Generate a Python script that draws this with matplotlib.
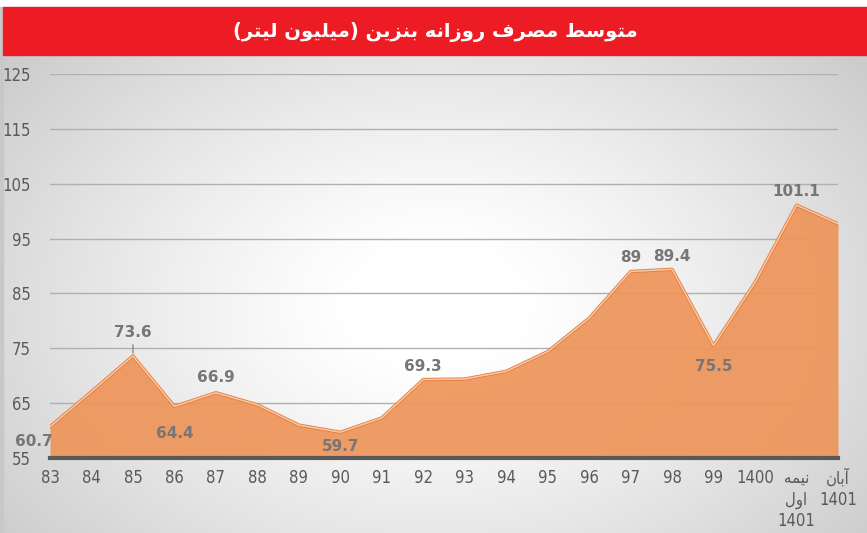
import numpy as np
import matplotlib
matplotlib.use("Agg")
import matplotlib.pyplot as plt

# ---------------- data ----------------
categories = ["83", "84", "85", "86", "87", "88", "89", "90", "91", "92",
              "93", "94", "95", "96", "97", "98", "99", "1400",
              "نیمه\nاول\n1401", "آبان\n1401"]
values = [60.7, 67.1, 73.6, 64.4, 66.9, 64.7, 61.0, 59.7, 62.3, 69.3,
          69.4, 70.8, 74.4, 80.5, 89.0, 89.4, 75.5, 87.0, 101.1, 97.7]
labeled = {0: "60.7", 2: "73.6", 3: "64.4", 4: "66.9", 7: "59.7", 9: "69.3",
           14: "89", 15: "89.4", 16: "75.5", 18: "101.1"}
yticks = [55, 65, 75, 85, 95, 105, 115, 125]
title = "متوسط مصرف روزانه بنزین (میلیون لیتر)"

# ---------------- minimal Arabic/Persian shaping ----------------
FORMS = {  # isolated, final, initial, medial
    "ا": ("\uFE8D", "\uFE8E", None, None),
    "آ": ("\uFE81", "\uFE82", None, None),
    "ب": ("\uFE8F", "\uFE90", "\uFE91", "\uFE92"),
    "ت": ("\uFE95", "\uFE96", "\uFE97", "\uFE98"),
    "ر": ("\uFEAD", "\uFEAE", None, None),
    "ز": ("\uFEAF", "\uFEB0", None, None),
    "س": ("\uFEB1", "\uFEB2", "\uFEB3", "\uFEB4"),
    "ص": ("\uFEB9", "\uFEBA", "\uFEBB", "\uFEBC"),
    "ط": ("\uFEC1", "\uFEC2", "\uFEC3", "\uFEC4"),
    "ف": ("\uFED1", "\uFED2", "\uFED3", "\uFED4"),
    "ل": ("\uFEDD", "\uFEDE", "\uFEDF", "\uFEE0"),
    "م": ("\uFEE1", "\uFEE2", "\uFEE3", "\uFEE4"),
    "ن": ("\uFEE5", "\uFEE6", "\uFEE7", "\uFEE8"),
    "ه": ("\uFEE9", "\uFEEA", "\uFEEB", "\uFEEC"),
    "و": ("\uFEED", "\uFEEE", None, None),
    "ی": ("\uFEEF", "\uFEF0", "\uFEF3", "\uFEF4"),
}
MIRROR = {"(": ")", ")": "("}


def dual(c):
    return c in FORMS and FORMS[c][2] is not None


def shape_line(s):
    out = []
    for i, c in enumerate(s):
        if c not in FORMS:
            out.append(MIRROR.get(c, c))
            continue
        prev = s[i - 1] if i > 0 else ""
        nxt = s[i + 1] if i + 1 < len(s) else ""
        jp = dual(prev)
        jn = dual(c) and nxt in FORMS
        iso, fin, ini, med = FORMS[c]
        if jp and jn:
            out.append(med)
        elif jp:
            out.append(fin)
        elif jn:
            out.append(ini)
        else:
            out.append(iso)
    if any(ch in FORMS for ch in s):
        out = out[::-1]
    return "".join(out)


def shape(s):
    return "\n".join(shape_line(l) for l in s.split("\n"))


# ---------------- figure ----------------
W, H = 867, 533
fig = plt.figure(figsize=(W / 100, H / 100), dpi=100)
fig.patch.set_facecolor("white")

# background radial gradient
bg = fig.add_axes([0.004, 0, 0.996, 1 - 7 / H], zorder=-10)
yy, xx = np.mgrid[0:300, 0:500]
cx, cy = 250, 170
t = np.sqrt(((xx - cx) / 320.0) ** 2 + ((yy - cy) / 220.0) ** 2)
t = np.clip((t - 0.15) / 0.85, 0, 1)
g = 1.0 - 0.2 * t ** 1.2
bg.imshow(np.dstack([g, g, g]), aspect="auto", extent=[0, 1, 0, 1],
          interpolation="bilinear")
bg.set_axis_off()
# left border stripe
fig.add_artist(plt.Rectangle((0, 0), 3 / W, 1 - 7 / H, transform=fig.transFigure,
                             color="#c8c8c8", zorder=-5))

# title band
band = plt.Rectangle((3 / W, (H - 55) / H), 1 - 3 / W, 48 / H, transform=fig.transFigure,
                     color="#ED1C24", zorder=5)
fig.add_artist(band)
fig.text(0.5 + 3 / (2 * W), (H - 32) / H, shape(title), color="white", fontsize=14,
         fontweight="bold", ha="center", va="center", family=["DejaVu Sans"], zorder=6)

# main axes
ax = fig.add_axes([50 / W, (H - 458) / H, 788 / W, 384 / H])
ax.patch.set_alpha(0)
x = np.arange(len(values))
ax.fill_between(x, 55, values, color="#EE955A", alpha=0.93, zorder=2, linewidth=0)
ax.plot(x, values, color="#E57F40", lw=2.4, zorder=3, solid_joinstyle="round")
ax.plot(x, values, color="#F9C9A5", lw=1.1, zorder=4, solid_joinstyle="round")

ax.set_xlim(0, len(values) - 1)
ax.set_ylim(55, 125)
ax.set_yticks(yticks)
ax.yaxis.grid(True, color="#b0b0b0", lw=1.0, zorder=1)
ax.set_axisbelow(True)
for s in ["top", "right", "left"]:
    ax.spines[s].set_visible(False)
ax.spines["bottom"].set_color("#595959")
ax.spines["bottom"].set_linewidth(3)
ax.spines["bottom"].set_zorder(6)
ax.tick_params(axis="both", length=0, colors="#595959", labelsize=12)
ax.tick_params(axis="y", pad=14)
ax.tick_params(axis="x", pad=8)
ax.set_xticks(x)
ax.set_xticklabels([shape(c) for c in categories], va="top", ha="center",
                   linespacing=1.25)
for lab in ax.get_xticklabels() + ax.get_yticklabels():
    lab.set_family(["DejaVu Sans"])
    lab.set_fontstretch("condensed")
    lab.set_color("#595959")

offsets = {0: (-16, -15), 2: (0, 23), 3: (0, -27), 4: (0, 15), 7: (0, -14),
           9: (0, 13), 14: (0, 14), 15: (0, 13), 16: (0, -21), 18: (0, 14)}
for i, txt in labeled.items():
    dx, dy = offsets[i]
    ax.annotate(txt, (x[i], values[i]), xytext=(dx, dy), textcoords="offset pixels",
                ha="center", va="center", fontsize=11, fontweight="bold",
                color="#767676", zorder=8)
# leader line for 85
ax.annotate("", (x[2], values[2]), xytext=(0, 14), textcoords="offset pixels",
            arrowprops=dict(arrowstyle="-", color="#7f7f7f", lw=0.9), zorder=7)

fig.savefig("out.png", dpi=100)
